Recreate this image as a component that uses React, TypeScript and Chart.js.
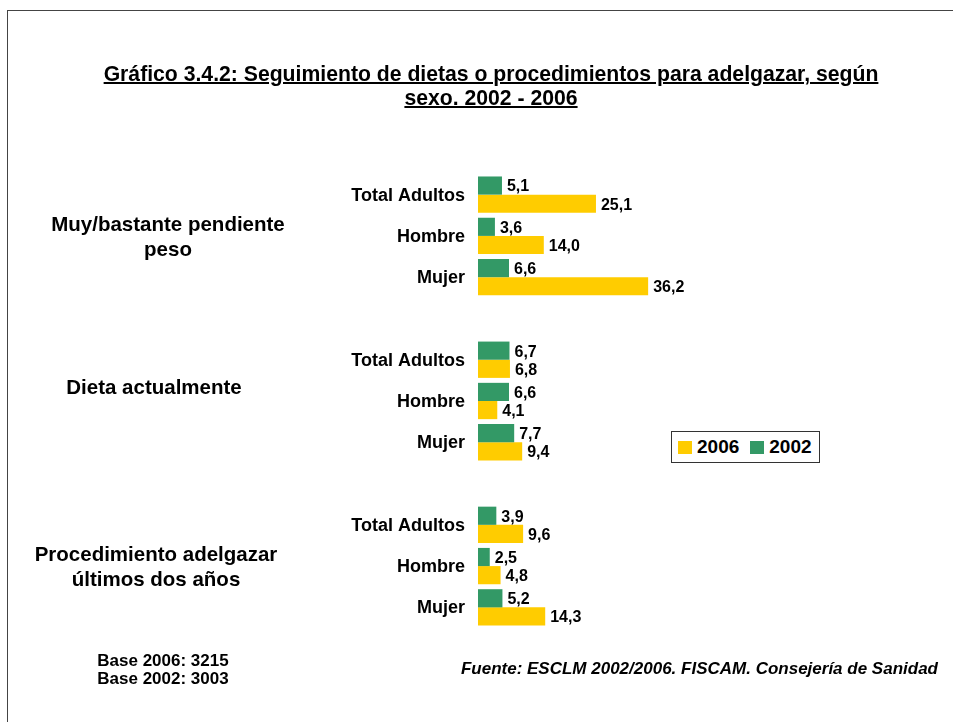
import React, { useEffect, useRef } from "react";
import { Chart, registerables } from "chart.js";

Chart.register(...registerables);

const FONT = '"Liberation Sans", Arial, Helvetica, sans-serif';

// ---- data ----
const titleLines = [
  "Gráfico 3.4.2: Seguimiento de dietas o procedimientos para adelgazar, según",
  "sexo. 2002 - 2006",
];
const groupLabels: string[][] = [
  ["Muy/bastante pendiente", "peso"],
  ["Dieta actualmente"],
  ["Procedimiento adelgazar", "últimos dos años"],
];
const sexLabels = ["Total Adultos", "Hombre", "Mujer"];
const values2002 = [
  [5.1, 3.6, 6.6],
  [6.7, 6.6, 7.7],
  [3.9, 2.5, 5.2],
];
const values2006 = [
  [25.1, 14.0, 36.2],
  [6.8, 4.1, 9.4],
  [9.6, 4.8, 14.3],
];
const legendOrder = ["2006", "2002"];
const seriesColors: Record<string, string> = { "2006": "#FFCC00", "2002": "#339966" };
const baseLines = ["Base 2006: 3215", "Base 2002: 3003"];
const sourceText = "Fuente: ESCLM 2002/2006. FISCAM. Consejería de Sanidad";

// layout (horizontal centre of each group label)
const groupLabelCenters = [168, 154, 156];

// build category axis with a blank slot between groups
const categories: string[] = [];
const data2002: (number | null)[] = [];
const data2006: (number | null)[] = [];
const groupCenterIndex: number[] = [];
groupLabels.forEach((_, g) => {
  if (g > 0) {
    categories.push("");
    data2002.push(null);
    data2006.push(null);
  }
  groupCenterIndex.push(categories.length + 1);
  sexLabels.forEach((s, i) => {
    categories.push(s);
    data2002.push(values2002[g][i]);
    data2006.push(values2006[g][i]);
  });
});

const fmt = (v: number) => v.toFixed(1).replace(".", ",");

const valueLabelPlugin = {
  id: "valueLabels",
  afterDatasetsDraw(chart: any) {
    const ctx = chart.ctx;
    ctx.save();
    ctx.font = `bold 16px ${FONT}`;
    ctx.fillStyle = "#000";
    ctx.textAlign = "left";
    ctx.textBaseline = "middle";
    chart.data.datasets.forEach((ds: any, di: number) => {
      const meta = chart.getDatasetMeta(di);
      meta.data.forEach((el: any, i: number) => {
        const v = ds.data[i];
        if (v == null) return;
        ctx.fillText(fmt(v), el.x + 5, el.y + 1.5);
      });
    });
    ctx.restore();
  },
};

const groupLabelPlugin = {
  id: "groupLabels",
  afterDraw(chart: any) {
    const ctx = chart.ctx;
    const y = chart.scales.y;
    ctx.save();
    ctx.font = `bold 20.5px ${FONT}`;
    ctx.fillStyle = "#000";
    ctx.textAlign = "center";
    ctx.textBaseline = "middle";
    groupLabels.forEach((lines, g) => {
      const cy = y.getPixelForValue(groupCenterIndex[g]);
      const cx = groupLabelCenters[g];
      if (lines.length === 1) {
        ctx.fillText(lines[0], cx, cy - 13);
      } else {
        lines.forEach((ln, k) => {
          ctx.fillText(ln, cx, cy - 11 + k * 25);
        });
      }
    });
    ctx.restore();
  },
};

export default function App() {
  const ref = useRef<HTMLCanvasElement | null>(null);

  useEffect(() => {
    if (!ref.current) return;
    const chart = new Chart(ref.current, {
      type: "bar",
      data: {
        labels: categories,
        datasets: [
          {
            label: "2002",
            data: data2002,
            backgroundColor: seriesColors["2002"],
            categoryPercentage: 0.88,
            barPercentage: 1.0,
          },
          {
            label: "2006",
            data: data2006,
            backgroundColor: seriesColors["2006"],
            categoryPercentage: 0.88,
            barPercentage: 1.0,
          },
        ],
      },
      options: {
        indexAxis: "y",
        responsive: false,
        animation: false,
        layout: { padding: { top: 174, bottom: 94, left: 0, right: 287 } },
        scales: {
          x: { display: false, min: 0, max: 40 },
          y: {
            grid: { display: false, drawTicks: false },
            border: { display: false },
            ticks: {
              autoSkip: false,
              color: "#000",
              padding: 13,
              labelOffset: 1,
              font: { family: FONT, weight: "bold", size: 18 },
            },
            afterFit: (s: any) => {
              s.width = 478;
            },
          },
        },
        plugins: {
          legend: { display: false },
          tooltip: { enabled: false },
        },
      },
      plugins: [valueLabelPlugin, groupLabelPlugin],
    } as any);
    return () => chart.destroy();
  }, []);

  return (
    <div
      style={{
        position: "fixed",
        left: 0,
        top: 0,
        width: 953,
        height: 722,
        background: "#fff",
        overflow: "hidden",
        fontFamily: FONT,
        color: "#000",
      }}
    >
      <div
        style={{
          position: "absolute",
          left: 7,
          top: 10,
          width: 1200,
          height: 1000,
          borderLeft: "1px solid #444",
          borderTop: "1px solid #444",
        }}
      />
      <canvas
        ref={ref}
        width={953}
        height={722}
        style={{ position: "absolute", left: 0, top: 0, width: 953, height: 722 }}
      />
      <div
        style={{
          position: "absolute",
          left: 0,
          top: 62,
          width: 982,
          textAlign: "center",
          fontWeight: "bold",
          fontSize: 21.2,
          lineHeight: "24px",
          textDecoration: "underline",
          textDecorationThickness: "2px",
          whiteSpace: "nowrap",
        }}
      >
        {titleLines.map((t, i) => (
          <div key={i}>{t}</div>
        ))}
      </div>
      <div
        style={{
          position: "absolute",
          left: 63,
          top: 652,
          width: 200,
          textAlign: "center",
          fontWeight: "bold",
          fontSize: 17,
          lineHeight: "18px",
        }}
      >
        {baseLines.map((t, i) => (
          <div key={i}>{t}</div>
        ))}
      </div>
      <div
        style={{
          position: "absolute",
          right: 953 - 938,
          top: 660,
          whiteSpace: "nowrap",
          fontWeight: "bold",
          fontStyle: "italic",
          fontSize: 17,
          lineHeight: "18px",
        }}
      >
        {sourceText}
      </div>
      <div
        style={{
          position: "absolute",
          left: 671,
          top: 431,
          width: 141,
          height: 30,
          border: "1px solid #333",
          background: "#fff",
          display: "flex",
          alignItems: "center",
          paddingLeft: 6,
          boxSizing: "content-box",
        }}
      >
        {legendOrder.map((name, i) => (
          <div key={name} style={{ display: "flex", alignItems: "center", marginLeft: i > 0 ? 11 : 0 }}>
            <span
              style={{
                display: "inline-block",
                width: 14,
                height: 13,
                background: seriesColors[name],
                marginRight: 5,
              }}
            />
            <span style={{ fontWeight: "bold", fontSize: 19, lineHeight: "20px" }}>{name}</span>
          </div>
        ))}
      </div>
    </div>
  );
}
